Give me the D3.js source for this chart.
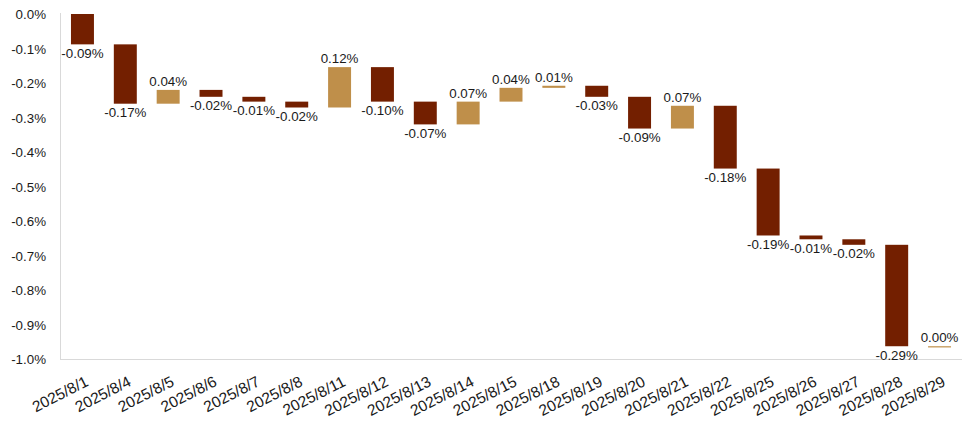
<!DOCTYPE html>
<html>
<head>
<meta charset="utf-8">
<script src="https://cdn.jsdelivr.net/npm/d3@7/dist/d3.min.js"></script>
<style>
  body { margin: 0; background: #fff; }
  svg { display: block; font-family: "Liberation Sans", Arial, sans-serif; }
</style>
</head>
<body>
<svg id="chart" width="976" height="430"></svg>
<script>
// Dates (categories)
const dates = ["2025/8/1","2025/8/4","2025/8/5","2025/8/6","2025/8/7","2025/8/8","2025/8/11","2025/8/12","2025/8/13","2025/8/14","2025/8/15","2025/8/18","2025/8/19","2025/8/20","2025/8/21","2025/8/22","2025/8/25","2025/8/26","2025/8/27","2025/8/28","2025/8/29"];
// Daily change (%)
const changes = [-0.088,-0.172,0.040,-0.020,-0.014,-0.017,0.117,-0.100,-0.066,0.066,0.040,0.006,-0.032,-0.092,0.066,-0.182,-0.194,-0.011,-0.016,-0.294,0.000];
// Y-axis ticks (%)
const yTicks = [0,-0.1,-0.2,-0.3,-0.4,-0.5,-0.6,-0.7,-0.8,-0.9,-1.0];

const colorNeg = "#731f00";
const colorPos = "#bf8f4a";
const FS = 13.33;

const locale = d3.formatLocale({ decimal: ".", thousands: ",", grouping: [3], currency: ["", ""], minus: "-" });
const f1 = locale.format(".1f");
const f2 = locale.format(".2f");

// build waterfall
let run = 0;
const data = dates.map((d, i) => {
  const start = run;
  run = run + changes[i];
  return { date: d, change: changes[i], start, end: run };
});

const svg = d3.select("#chart");
const x = d3.scaleBand().domain(dates).range([60, 962]).paddingInner(0.464).paddingOuter(0.256);
const y = d3.scaleLinear().domain([-1.0, 0]).range([359, 14]);

// axes lines
svg.append("line").attr("x1", 60.5).attr("x2", 60.5).attr("y1", 13).attr("y2", 359)
  .attr("stroke", "#d9d9d9").attr("stroke-width", 1);
svg.append("line").attr("x1", 60).attr("x2", 962).attr("y1", 359.5).attr("y2", 359.5)
  .attr("stroke", "#d9d9d9").attr("stroke-width", 1);

// y tick labels
svg.append("g").selectAll("text").data(yTicks).join("text")
  .attr("x", 46).attr("y", d => y(d) + 0.5).attr("dy", "0.35em")
  .attr("text-anchor", "end").attr("font-size", FS).attr("fill", "#1a1a1a")
  .text(d => f1(d) + "%");

// bars
svg.append("g").selectAll("rect").data(data).join("rect")
  .attr("x", d => x(d.date))
  .attr("width", x.bandwidth())
  .attr("y", d => y(Math.max(d.start, d.end)))
  .attr("height", d => Math.max(1.2, Math.abs(y(d.start) - y(d.end))))
  .attr("fill", d => d.change >= 0 ? colorPos : colorNeg);

// value labels
svg.append("g").selectAll("text").data(data).join("text")
  .attr("x", d => x(d.date) + x.bandwidth() / 2)
  .attr("y", d => d.change >= 0 ? y(Math.max(d.start, d.end)) - 4 : y(Math.min(d.start, d.end)) + 13.5)
  .attr("text-anchor", "middle").attr("font-size", FS).attr("fill", "#1a1a1a")
  .text(d => f2(d.change) + "%");

// x tick labels
svg.append("g").selectAll("text").data(dates).join("text")
  .attr("text-anchor", "end").attr("font-size", 15.5).attr("fill", "#1a1a1a")
  .attr("transform", d => `translate(${x(d) + x.bandwidth() / 2 + 7},${385}) rotate(-27)`)
  .text(d => d);
</script>
</body>
</html>
